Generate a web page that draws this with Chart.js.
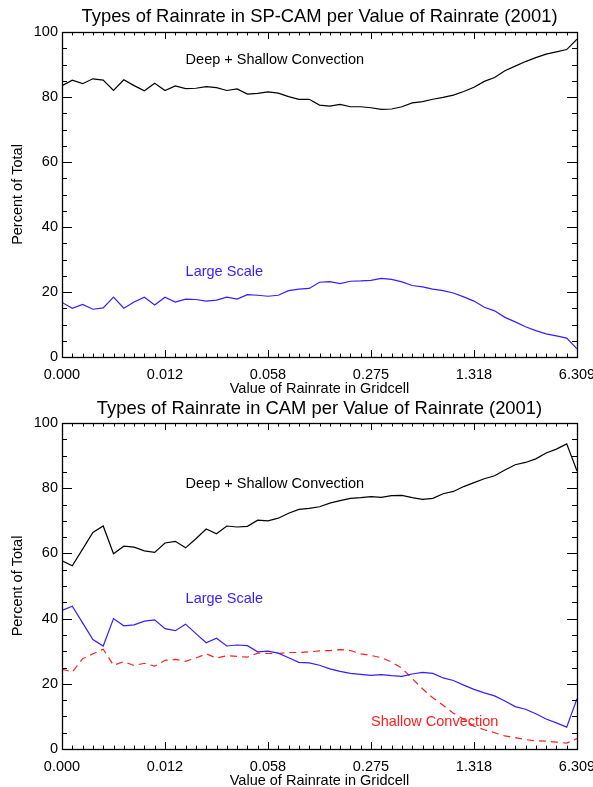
<!DOCTYPE html>
<html>
<head>
<meta charset="utf-8">
<script src="https://cdn.jsdelivr.net/npm/chart.js@4.4.1/dist/chart.umd.min.js"></script>
<style>
    body { margin: 0; background: #fff; overflow: hidden; }
    canvas { position: absolute; left: 0; }
</style>
</head>
<body>
<canvas id="spcamChart" width="593" height="398" style="top:0px"></canvas>
<canvas id="camChart" width="593" height="389" style="top:398px"></canvas>
<script>
// x is the bin index (0..50), labelled every 10 bins with the rainrate
const xTickLabels = ['0.000', '0.012', '0.058', '0.275', '1.318', '6.309'];

// SP-CAM (top panel)
const spcamDeepShallow = [83.5, 85.2, 84.1, 85.6, 85.2, 82.0, 85.3, 83.5, 81.9, 84.2,
    82.0, 83.4, 82.6, 82.7, 83.2, 82.9, 82.0, 82.5, 80.9, 81.1,
    81.6, 81.2, 80.1, 79.3, 79.3, 77.5, 77.2, 77.7, 77.0, 77.0,
    76.7, 76.2, 76.3, 77.0, 78.2, 78.6, 79.3, 79.9, 80.6, 81.7,
    83.0, 84.8, 86.0, 88.1, 89.5, 90.9, 92.1, 93.2, 93.9, 94.6, 97.8];
const spcamLargeScale = [16.8, 15.0, 16.2, 14.7, 15.1, 18.4, 15.0, 16.9, 18.4, 16.0,
    18.4, 16.9, 17.8, 17.7, 17.2, 17.5, 18.4, 17.8, 19.2, 19.0,
    18.7, 19.0, 20.4, 20.9, 21.1, 23.0, 23.2, 22.6, 23.3, 23.4,
    23.6, 24.2, 23.9, 23.1, 22.0, 21.6, 20.9, 20.4, 19.7, 18.5,
    17.2, 15.3, 14.2, 12.2, 10.8, 9.3, 8.1, 7.1, 6.5, 5.8, 2.5];

// CAM (bottom panel)
const camDeepShallow = [57.7, 56.2, 61.3, 66.4, 68.4, 59.9, 62.2, 61.9, 60.8, 60.3,
    63.2, 63.7, 61.7, 64.5, 67.5, 66.0, 68.4, 68.1, 68.3, 70.2,
    70.0, 70.8, 72.3, 73.5, 73.8, 74.3, 75.4, 76.2, 76.9, 77.1,
    77.4, 77.2, 77.7, 77.8, 77.1, 76.6, 76.9, 78.3, 79.0, 80.5,
    81.7, 82.9, 83.8, 85.6, 87.2, 87.9, 89.0, 90.8, 92.0, 93.6, 85.3];
const camLargeScale = [42.5, 43.8, 38.7, 33.6, 31.6, 40.0, 37.8, 38.1, 39.2, 39.6,
    36.9, 36.3, 38.3, 35.4, 32.6, 34.0, 31.6, 31.9, 31.7, 29.8,
    30.0, 29.4, 28.0, 26.6, 26.4, 25.7, 24.6, 23.8, 23.2, 22.9,
    22.6, 22.8, 22.5, 22.3, 23.0, 23.5, 23.2, 21.8, 21.0, 19.6,
    18.3, 17.2, 16.3, 14.7, 13.0, 12.2, 10.8, 9.2, 8.0, 6.7, 15.4];
const camShallow = [24.5, 23.6, 27.7, 29.2, 30.6, 25.7, 26.8, 25.6, 26.3, 25.4,
    27.2, 27.5, 26.9, 27.9, 29.2, 27.9, 28.6, 28.4, 28.2, 29.4,
    29.3, 29.3, 29.6, 29.6, 29.8, 30.1, 30.2, 30.5, 30.2, 29.2,
    28.7, 28.0, 26.7, 24.8, 21.6, 18.5, 15.7, 13.4, 11.0, 9.1,
    7.0, 5.9, 5.0, 4.0, 3.5, 2.9, 2.5, 2.4, 2.1, 1.8, 3.2];

const FONT = "'Liberation Sans', Arial, Helvetica, sans-serif";
const BLUE = 'rgb(55, 30, 255)';
const RED = 'rgb(255, 30, 30)';

function toPoints(values) {
    return values.map((v, i) => ({ x: i, y: v }));
}

// IDL style frame: box round the plot with inward ticks on all four sides,
// title centred over the plot area and the series labels inside it
const idlFrame = {
    id: 'idlFrame',
    afterDatasetsDraw(chart, args, opts) {
        const { ctx, chartArea: a, scales: { x, y } } = chart;
        ctx.save();
        ctx.strokeStyle = '#000';
        ctx.lineWidth = 1;
        ctx.beginPath();
        for (let i = 0; i <= 50; i++) {
            const px = Math.round(x.getPixelForValue(i)) + 0.5;
            const len = i % 10 === 0 ? 7 : 3.5;
            ctx.moveTo(px, a.bottom); ctx.lineTo(px, a.bottom - len);
            ctx.moveTo(px, a.top); ctx.lineTo(px, a.top + len);
        }
        for (let v = 0; v <= 100; v += 5) {
            const py = Math.round(y.getPixelForValue(v)) + 0.5;
            const len = v % 20 === 0 ? 10 : 5;
            ctx.moveTo(a.left, py); ctx.lineTo(a.left + len, py);
            ctx.moveTo(a.right, py); ctx.lineTo(a.right - len, py);
        }
        ctx.stroke();
        ctx.lineWidth = 1.3;
        ctx.strokeRect(Math.round(a.left) + 0.5, Math.round(a.top) + 0.5,
            Math.round(a.right - a.left), Math.round(a.bottom - a.top));

        ctx.fillStyle = '#000';
        ctx.font = '18.4px ' + FONT;
        ctx.textAlign = 'center';
        ctx.textBaseline = 'middle';
        ctx.fillText(opts.title, (a.left + a.right) / 2, opts.titleY);

        ctx.font = '14.5px ' + FONT;
        ctx.textAlign = 'left';
        ctx.textBaseline = 'alphabetic';
        (opts.notes || []).forEach(n => {
            ctx.fillStyle = n.color;
            ctx.fillText(n.text, x.getPixelForValue(n.x), y.getPixelForValue(n.y));
        });
        ctx.restore();
    }
};

function makeChart(id, title, datasets, notes, topPad, titleY, xHeight, xTitlePad) {
    return new Chart(document.getElementById(id), {
        type: 'line',
        data: { datasets: datasets },
        options: {
            responsive: false,
            animation: false,
            layout: { padding: { left: 0, right: 16, top: topPad, bottom: 0 } },
            elements: { point: { radius: 0 }, line: { tension: 0 } },
            plugins: {
                legend: { display: false },
                tooltip: { enabled: false },
                title: { display: false },
                idlFrame: { title: title, titleY: titleY, notes: notes }
            },
            scales: {
                x: {
                    type: 'linear',
                    min: 0,
                    max: 50,
                    grid: { display: false, drawTicks: false },
                    border: { display: false },
                    ticks: {
                        stepSize: 10,
                        autoSkip: false,
                        maxRotation: 0,
                        padding: 9,
                        color: '#000',
                        font: { family: FONT, size: 14.5 },
                        callback: v => xTickLabels[v / 10] ?? ''
                    },
                    title: {
                        display: true,
                        text: 'Value of Rainrate in Gridcell',
                        color: '#000',
                        font: { family: FONT, size: 14.5, lineHeight: 1 },
                        padding: { top: 0, bottom: xTitlePad }
                    },
                    afterFit: s => { s.height = xHeight; s.paddingLeft = 0; s.paddingRight = 0; }
                },
                y: {
                    min: 0,
                    max: 100,
                    grid: { display: false, drawTicks: false },
                    border: { display: false },
                    ticks: {
                        stepSize: 20,
                        padding: 4,
                        color: '#000',
                        font: { family: FONT, size: 14.5 }
                    },
                    title: {
                        display: true,
                        text: 'Percent of Total',
                        color: '#000',
                        font: { family: FONT, size: 14.5, lineHeight: 1 },
                        padding: { top: 11, bottom: 0 }
                    },
                    afterFit: s => { s.width = 62; s.paddingTop = 0; s.paddingBottom = 0; }
                }
            }
        },
        plugins: [idlFrame]
    });
}

makeChart('spcamChart', 'Types of Rainrate in SP-CAM per Value of Rainrate (2001)', [
    { data: toPoints(spcamDeepShallow), borderColor: '#000', borderWidth: 1.2 },
    { data: toPoints(spcamLargeScale), borderColor: BLUE, borderWidth: 1.2 }
], [
    { text: 'Deep + Shallow Convection', x: 12, y: 90.3, color: '#000' },
    { text: 'Large Scale', x: 12, y: 24.9, color: BLUE }
], 32, 17, 41, 2);

makeChart('camChart', 'Types of Rainrate in CAM per Value of Rainrate (2001)', [
    { data: toPoints(camDeepShallow), borderColor: '#000', borderWidth: 1.2 },
    { data: toPoints(camLargeScale), borderColor: BLUE, borderWidth: 1.2 },
    { data: toPoints(camShallow), borderColor: RED, borderWidth: 1.2, borderDash: [7, 5] }
], [
    { text: 'Deep + Shallow Convection', x: 12, y: 80.0, color: '#000' },
    { text: 'Large Scale', x: 12, y: 44.8, color: BLUE },
    { text: 'Shallow Convection', x: 30, y: 7.1, color: RED }
], 25, 11, 38, -1.5);
</script>
</body>
</html>
